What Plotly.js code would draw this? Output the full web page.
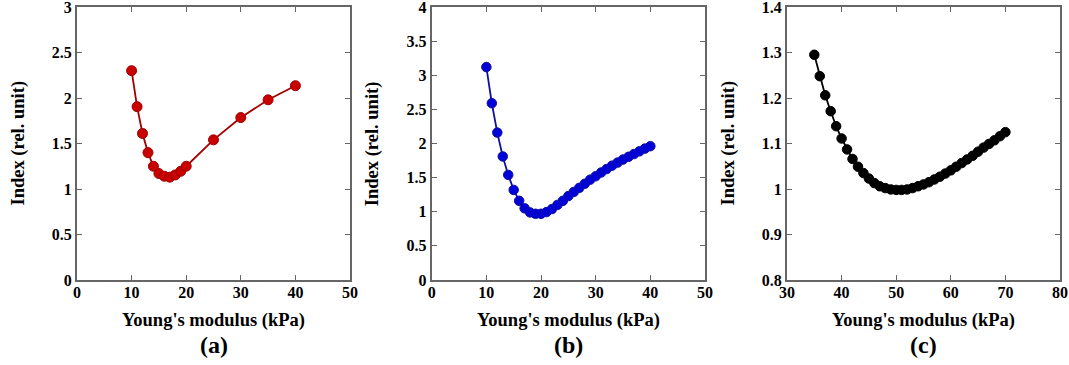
<!DOCTYPE html>
<html>
<head>
<meta charset="utf-8">
<script src="https://cdn.plot.ly/plotly-3.0.1.min.js"></script>
<style>html,body{margin:0;padding:0;background:#fff;}#chart{width:1069px;height:365px;}</style>
</head>
<body>
<div id="chart"></div>
<script>
// Panel (a)
const aX = [10, 11, 12, 13, 14, 15, 16, 17, 18, 19, 20, 25, 30, 35, 40];
const aY = [2.30, 1.905, 1.61, 1.40, 1.25, 1.17, 1.14, 1.13, 1.155, 1.195, 1.25, 1.54, 1.785, 1.98, 2.135];
// Panel (b)
const bX = [10,11,12,13,14,15,16,17,18,19,20,21,22,23,24,25,26,27,28,29,30,31,32,33,34,35,36,37,38,39,40];
const bY = [3.12,2.59,2.16,1.81,1.54,1.32,1.16,1.05,0.99,0.97,0.97,0.995,1.04,1.10,1.16,1.23,1.29,1.35,1.41,1.47,1.52,1.575,1.625,1.675,1.72,1.765,1.805,1.845,1.885,1.925,1.96];
// Panel (c)
const cX = [35,36,37,38,39,40,41,42,43,44,45,46,47,48,49,50,51,52,53,54,55,56,57,58,59,60,61,62,63,64,65,66,67,68,69,70];
const cY = [1.295,1.248,1.206,1.171,1.138,1.111,1.087,1.066,1.049,1.035,1.023,1.013,1.006,1.002,0.999,0.998,0.998,0.999,1.002,1.006,1.010,1.015,1.021,1.027,1.034,1.041,1.049,1.057,1.065,1.073,1.082,1.091,1.099,1.107,1.116,1.125];

const xTitle = "Young's modulus (kPa)";
const yTitle = "Index (rel. unit)";
const panelLabels = ["(a)", "(b)", "(c)"];

(function(){
const W = 1069, H = 365;
const FONT = "Liberation Serif, serif";
const frame = '#666';

function px(v){ return v / W; }
function py(v){ return 1 - v / H; }

const panels = [
  {x: aX, y: aY, color: '#c80000', line: '#a00000', size: 10, left: 77, right: 350, xr: [0, 50], yr: [0, 3], dy: 0.5, dx: 10},
  {x: bX, y: bY, color: '#0000d8', line: '#1010a0', size: 9.5, left: 431.7, right: 705, xr: [0, 50], yr: [0, 4], dy: 0.5, dx: 10},
  {x: cX, y: cY, color: '#000000', line: '#000000', size: 9.5, left: 787, right: 1060, xr: [30, 80], yr: [0.8, 1.4], dy: 0.1, dx: 10}
];

const plotTop = 7, plotBottom = 280;
const traces = [];
const layout = {
  width: W, height: H,
  margin: {l: 0, r: 0, t: 0, b: 0},
  paper_bgcolor: '#fff', plot_bgcolor: '#fff',
  showlegend: false,
  font: {family: FONT, color: '#000'},
  annotations: []
};

panels.forEach((p, i) => {
  const n = i === 0 ? '' : String(i + 1);
  traces.push({
    type: 'scatter', mode: 'lines+markers',
    x: p.x, y: p.y,
    xaxis: 'x' + n, yaxis: 'y' + n,
    line: {color: p.line, width: 1.8},
    marker: {color: p.color, size: p.size, line: {color: p.line, width: 1}},
    cliponaxis: false
  });
  const axCommon = {
    showgrid: false, zeroline: false,
    showline: true, linecolor: frame, linewidth: 2,
    mirror: 'ticks', ticks: 'inside', ticklen: 5, tickwidth: 1, tickcolor: frame,
    ticklabeloverflow: 'allow',
    tickprefix: '<b>', ticksuffix: '</b>',
    tickfont: {family: FONT, size: 16, color: '#000', weight: 'bold'}
  };
  layout['xaxis' + n] = Object.assign({}, axCommon, {
    domain: [px(p.left), px(p.right)],
    range: p.xr, dtick: p.dx, tick0: 0,
    anchor: 'y' + n, ticklabelstandoff: -3
  });
  layout['yaxis' + n] = Object.assign({}, axCommon, {
    domain: [py(plotBottom), py(plotTop)],
    range: p.yr, dtick: p.dy, tick0: 0,
    anchor: 'x' + n, ticklabelstandoff: 0
  });
  const cx = (p.left + p.right) / 2;
  layout.annotations.push({
    xref: 'paper', yref: 'paper', x: px(cx), y: py(320),
    xanchor: 'center', yanchor: 'middle', showarrow: false,
    text: '<b>' + xTitle + '</b>',
    font: {family: FONT, size: 18.5, color: '#000'}
  });
  layout.annotations.push({
    xref: 'paper', yref: 'paper', x: px(cx), y: py(345),
    xanchor: 'center', yanchor: 'middle', showarrow: false,
    text: '<b>' + panelLabels[i] + '</b>',
    font: {family: FONT, size: 24, color: '#000'}
  });
  layout.annotations.push({
    xref: 'paper', yref: 'paper', x: px(p.left - 59), y: py((plotTop + plotBottom) / 2),
    xanchor: 'center', yanchor: 'middle', showarrow: false, textangle: -90,
    text: '<b>' + yTitle + '</b>',
    font: {family: FONT, size: 18.5, color: '#000'}
  });
});

Plotly.newPlot('chart', traces, layout, {displayModeBar: false, staticPlot: true});
})();
</script>
</body>
</html>
